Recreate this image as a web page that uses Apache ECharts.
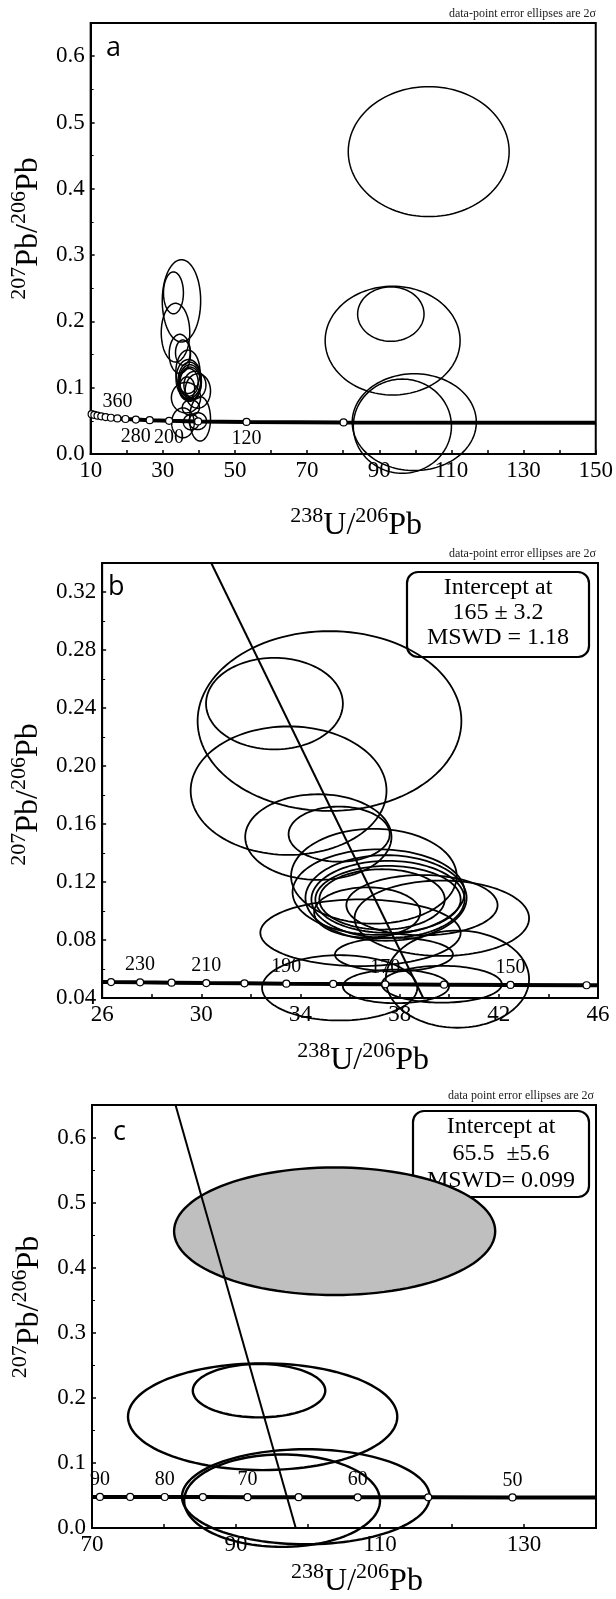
<!DOCTYPE html>
<html><head><meta charset="utf-8">
<script src="https://cdn.jsdelivr.net/npm/echarts@6/dist/echarts.min.js"></script>
<style>html,body{margin:0;padding:0;background:#fff}#c{width:616px;height:1599px}</style>
</head><body><div id="c"></div>
<script>
// ---------- data ----------
// Older zircon group (panel a cluster, panel b): ellipse centres and 2-sigma half-axes
const olderCX = [35.17, 32.95, 33.52, 34.72, 35.56, 36.96, 37.15, 37.45, 37.53, 37.53, 37.29, 38.9, 39.7, 36.42, 36.69, 37.77, 35.58, 37.85, 40.33, 39.7];
const olderCY = [0.231, 0.243, 0.183, 0.151, 0.153, 0.124, 0.113, 0.109, 0.108, 0.108, 0.108, 0.104, 0.095, 0.085, 0.099, 0.070, 0.047, 0.048, 0.053, 0.0495];
const olderRX = [5.32, 2.76, 3.95, 2.95, 2.04, 3.34, 3.47, 3.25, 3.09, 2.93, 2.53, 3.05, 3.52, 4.04, 2.14, 2.38, 3.13, 2.14, 2.89, 2.42];
const olderRY = [0.062, 0.0316, 0.0443, 0.0295, 0.019, 0.0327, 0.0295, 0.0295, 0.0266, 0.0231, 0.0208, 0.0208, 0.026, 0.023, 0.0173, 0.0116, 0.0225, 0.0116, 0.0335, 0.0127];
// Young group (panel a right side, panel c)
const youngCX = [103.7, 93.2, 93.7, 99.7, 96.4];
const youngCY = [0.456, 0.211, 0.171, 0.048, 0.042];
const youngRX = [22.3, 9.2, 18.7, 17.2, 13.6];
const youngRY = [0.098, 0.041, 0.082, 0.073, 0.071];

// Concordia age marks
const concAAge = [600, 560, 520, 480, 440, 400, 360, 320, 280, 240, 200, 160, 120, 80];
const concAX = [10.27, 11.03, 11.91, 12.94, 14.16, 15.61, 17.41, 19.65, 22.53, 26.36, 31.74, 39.79, 53.2, 80.1];
const concAY = [0.0600, 0.0589, 0.0578, 0.0568, 0.0557, 0.0547, 0.0537, 0.0528, 0.0519, 0.0510, 0.0501, 0.0492, 0.0484, 0.0476];
const concALabels = [360, 280, 200, 120];
const concAEndX = [10, 150];
const concAEndY = [0.0618, 0.0471];

const concBAge = [240, 230, 220, 210, 200, 190, 180, 170, 160, 150, 140];
const concBX = [26.36, 27.53, 28.80, 30.20, 31.74, 33.43, 35.32, 37.42, 39.79, 42.47, 45.54];
const concBY = [0.0510, 0.0508, 0.0506, 0.0503, 0.0501, 0.0499, 0.0497, 0.0494, 0.0492, 0.0490, 0.0488];
const concBLabels = [230, 210, 190, 170, 150];
const concBEndX = [26, 46];
const concBEndY = [0.0511, 0.0488];

const concCAge = [90, 85, 80, 75, 70, 65, 60, 55, 50];
const concCX = [71.1, 75.3, 80.1, 85.4, 91.6, 98.7, 106.9, 116.7, 128.4];
const concCY = [0.0478, 0.0477, 0.0476, 0.0475, 0.0474, 0.0473, 0.0472, 0.0471, 0.0470];
const concCLabels = [90, 80, 70, 60, 50];
const concCEndX = [70, 140];
const concCEndY = [0.0478, 0.0469];

// Discordia (regression) lines
const discBX = [30.4, 38.95];
const discBY = [0.34, 0.04];
const discCX = [81.6, 98.3];
const discCY = [0.65, 0.0];

// Text
const panelLetters = ['a', 'b', 'c'];
const noteText = ['data-point error ellipses are 2\u03C3', 'data-point error ellipses are 2\u03C3', 'data point error ellipses are 2\u03C3'];
const boxB = ['Intercept at', '165 \u00B1 3.2', 'MSWD = 1.18'];
const boxC = ['Intercept at', '65.5  \u00B15.6', 'MSWD= 0.099'];

// ---------- chart ----------
const SERIF = '"Liberation Serif", "Times New Roman", serif';
const chart = echarts.init(document.getElementById('c'), null, {renderer: 'canvas', width: 616, height: 1599});

const xName = '{s|238}{m|U/}{s|206}{m|Pb}';
const yName = '{s|207}{m|Pb/}{s|206}{m|Pb}';
const richName = {
  s: {fontSize: 22, fontFamily: SERIF, color: '#000', verticalAlign: 'top', lineHeight: 22},
  m: {fontSize: 32, fontFamily: SERIF, color: '#000', verticalAlign: 'bottom', lineHeight: 37}
};

function xAxisCfg(gi, min, max, interval, step, gap) {
  return {
    type: 'value', gridIndex: gi, min: min, max: max, interval: interval,
    axisLine: {show: true, onZero: false, lineStyle: {color: '#000', width: 2}},
    axisTick: {show: true, inside: true, length: 4, lineStyle: {color: '#000', width: 1.5}},
    splitLine: {show: false},
    axisLabel: {color: '#000', fontFamily: SERIF, fontSize: 23, margin: 5, showMaxLabel: true, showMinLabel: true,
      formatter: function (v) { return Math.round((v - min) / interval) % step === 0 ? String(Math.round(v)) : ''; }},
    name: xName, nameLocation: 'middle', nameGap: gap,
    nameTextStyle: {rich: richName, padding: [0, 0, 0, 26]}
  };
}
function yAxisCfg(gi, min, max, interval, dec, gap, pad) {
  return {
    type: 'value', gridIndex: gi, min: min, max: max, interval: interval,
    axisLine: {show: true, onZero: false, lineStyle: {color: '#000', width: 2}},
    axisTick: {show: true, inside: true, length: 4, lineStyle: {color: '#000', width: 1.5}},
    minorTick: {show: true, splitNumber: 2, length: 3, lineStyle: {color: '#000', width: 1}},
    splitLine: {show: false},
    axisLabel: {color: '#000', fontFamily: SERIF, fontSize: 23, margin: 6, showMaxLabel: false,
      formatter: function (v) { return v.toFixed(dec); }},
    name: yName, nameLocation: 'middle', nameGap: gap, nameRotate: 90,
    nameTextStyle: {rich: richName, padding: pad}
  };
}

function ellipseSeries(gi, cx, cy, rx, ry, lw, shadedIndex) {
  return {
    type: 'custom', xAxisIndex: gi, yAxisIndex: gi, clip: false, silent: true, z: 3,
    data: cx.map(function (v, i) { return [v, cy[i], rx[i], ry[i]]; }),
    renderItem: function (params, api) {
      const x = api.value(0), y = api.value(1), a = api.value(2), b = api.value(3);
      const pts = [];
      for (let k = 0; k < 120; k++) {
        const t = 2 * Math.PI * k / 120;
        pts.push(api.coord([x + a * Math.cos(t), y + b * Math.sin(t)]));
      }
      return {type: 'polygon', shape: {points: pts},
        style: {fill: params.dataIndex === shadedIndex ? '#bfbfbf' : 'none', stroke: '#000', lineWidth: lw}};
    }
  };
}
function lineSeries(gi, xs, ys, lw, z) {
  return {type: 'line', xAxisIndex: gi, yAxisIndex: gi, symbol: 'none', silent: true, z: z,
    data: xs.map(function (v, i) { return [v, ys[i]]; }),
    lineStyle: {color: '#000', width: lw}};
}
function concordiaLine(gi, xs, ys, endX, endY) {
  const pts = xs.map(function (v, i) { return [v, ys[i]]; });
  pts.unshift([endX[0], endY[0]]);
  pts.push([endX[1], endY[1]]);
  return {type: 'line', xAxisIndex: gi, yAxisIndex: gi, symbol: 'none', silent: true, z: 4,
    data: pts, lineStyle: {color: '#000', width: 4}};
}
function concordiaPoints(gi, ages, xs, ys, labels, posFn) {
  return {type: 'scatter', xAxisIndex: gi, yAxisIndex: gi, silent: true, z: 5,
    symbol: 'circle', symbolSize: 7,
    itemStyle: {color: '#fff', borderColor: '#000', borderWidth: 1.2, opacity: 1},
    data: xs.map(function (v, i) {
      const show = labels.indexOf(ages[i]) >= 0;
      return {value: [v, ys[i]], label: {show: show, formatter: String(ages[i]), position: posFn(ages[i]),
        distance: 3, color: '#000', fontFamily: SERIF, fontSize: 20}};
    })};
}

// graphics: panel letters, notes, intercept boxes
const grids = [
  {left: 85, top: 23, width: 513, height: 431},
  {left: 90, top: 563, width: 508, height: 435},
  {left: 92, top: 1105, width: 504, height: 430}
];
const graphics = [];
const LETTER_SIZE = 27;
const letterPos = [[106, 58], [108, 597], [113, 1142]]; // x, baseline
panelLetters.forEach(function (t, i) {
  graphics.push({type: 'text', z: 10,
    style: {text: t, x: letterPos[i][0], y: letterPos[i][1] - 0.35 * LETTER_SIZE, verticalAlign: 'middle',
      font: LETTER_SIZE + 'px "Open Sans", sans-serif', fill: '#000'}});
});
noteText.forEach(function (t, i) {
  const g = grids[i];
  graphics.push({type: 'text', z: 10,
    style: {text: t, x: g.left + g.width - 2, y: g.top - 3, align: 'right', verticalAlign: 'bottom',
      font: '12px ' + SERIF, fill: '#222'}});
});
function box(x, y, w, h, lines, lh) {
  const children = [{type: 'rect', shape: {x: 0, y: 0, width: w, height: h, r: 11},
    style: {fill: '#fff', stroke: '#000', lineWidth: 2.2}}];
  lines.forEach(function (t, i) {
    children.push({type: 'text', style: {text: t, x: w / 2, y: 16 + i * lh, align: 'center', verticalAlign: 'middle',
      font: '24px ' + SERIF, fill: '#000'}});
  });
  return {type: 'group', x: x, y: y, z: 20, children: children};
}
graphics.push(box(407, 572, 182, 85, boxB, 25));
graphics.push(box(413, 1111, 176, 86, boxC, 27));

chart.setOption({
  animation: false,
  backgroundColor: '#fff',
  grid: grids.map(function (g) { return Object.assign({show: true, borderColor: '#000', borderWidth: 2, backgroundColor: 'transparent'}, g); }),
  xAxis: [
    xAxisCfg(0, 10, 150, 10, 2, 51),
    xAxisCfg(1, 26, 46, 2, 2, 42),
    xAxisCfg(2, 70, 140, 10, 2, 33)
  ],
  yAxis: [
    yAxisCfg(0, 0, 0.65, 0.1, 1, 39, [0, 0, 0, 20]),
    yAxisCfg(1, 0.04, 0.34, 0.04, 2, 44, [0, 28, 0, 0]),
    yAxisCfg(2, 0, 0.65, 0.1, 1, 46, [0, 0, 0, 19])
  ],
  series: [
    concordiaLine(0, concAX, concAY, concAEndX, concAEndY),
    ellipseSeries(0, olderCX, olderCY, olderRX, olderRY, 1.5, -1),
    ellipseSeries(0, youngCX, youngCY, youngRX, youngRY, 1.5, -1),
    concordiaPoints(0, concAAge, concAX, concAY, concALabels, function (a) { return a > 300 ? 'top' : 'bottom'; }),

    ellipseSeries(1, olderCX, olderCY, olderRX, olderRY, 1.8, -1),
    lineSeries(1, discBX, discBY, 2, 4),
    concordiaLine(1, concBX, concBY, concBEndX, concBEndY),
    concordiaPoints(1, concBAge, concBX, concBY, concBLabels, function () { return 'top'; }),

    ellipseSeries(2, youngCX, youngCY, youngRX, youngRY, 2.4, 0),
    lineSeries(2, discCX, discCY, 2, 4),
    concordiaLine(2, concCX, concCY, concCEndX, concCEndY),
    concordiaPoints(2, concCAge, concCX, concCY, concCLabels, function () { return 'top'; })
  ],
  graphic: graphics
});
</script>
</body></html>
